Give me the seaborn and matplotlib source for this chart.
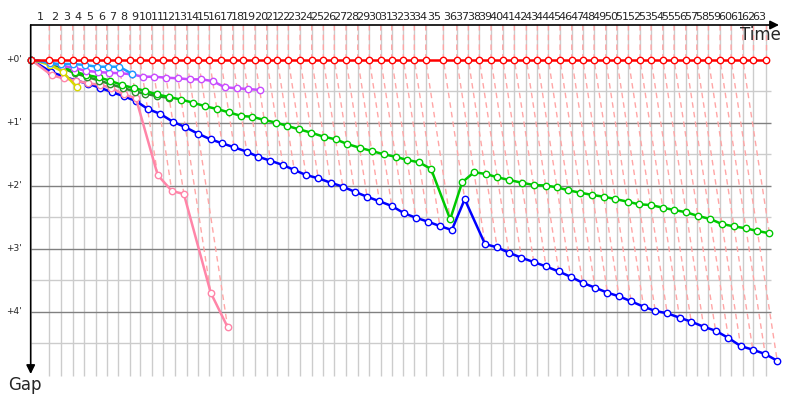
import numpy as np
import pandas as pd
import matplotlib
matplotlib.use("Agg")
import matplotlib.pyplot as plt
import seaborn as sns

# leader lap times (s), laps 1..63
leader_lap_times = [115.7, 70.9, 74.7, 70.3, 74.7, 66.6, 72.2, 72.8, 62.2, 72.8,
                    72.2, 72.8, 72.8, 72.2, 68.5, 70.9, 74.7, 66.0, 72.8, 72.8,
                    66.0, 68.5, 72.8, 72.8, 72.2, 68.5, 72.8, 72.8, 72.2, 70.9,
                    68.5, 72.2, 68.5, 70.9, 109.5, 83.4, 72.2, 68.5, 72.8, 72.8,
                    72.2, 74.7, 68.5, 68.5, 72.8, 72.8, 68.5, 70.3, 72.8, 68.5,
                    72.2, 72.8, 68.5, 72.8, 70.3, 72.8, 68.5, 72.2, 72.8, 68.5,
                    72.8, 66.0, 77.2]

# gap to leader (s) at the end of each lap, from lap 1
gaps_red = [0.0] * 63
gaps_blue = [12, 16, 20, 23, 27, 31, 35, 39.8, 47.0, 51.7,
             59.2, 64.5, 70.7, 76.0, 79.8, 83.6, 87.8, 92.6, 96.4, 100.5,
             105.2, 110.0, 113.1, 117.3, 121.1, 125.9, 130.7, 135.0, 139.5, 146.5,
             150.7, 154.5, 158.6, 162.4, 133.1, 175.7, 178.9, 184.0, 188.8, 192.9,
             197.1, 201.9, 206.9, 212.6, 217.3, 222.1, 225.5, 230.3, 235.4, 239.5,
             241.7, 245.9, 249.7, 254.5, 258.3, 265.2, 272.9, 276.4, 280.5, 286.9]
gaps_green = [3, 7, 11.6, 14.8, 17, 20.2, 24.3, 27.4, 29.7, 33.3,
              35.7, 38.2, 41.2, 44.6, 47.1, 50.3, 53.8, 54.5, 57.6, 60.2,
              63.3, 66.5, 69.7, 73.5, 76.0, 80.5, 84.0, 87.1, 90.3, 92.6,
              95.7, 97.9, 104.3, 152.2, 117.0, 107.4, 109.0, 112.2, 114.8, 117.3,
              119.5, 120.0, 121.7, 124.6, 126.9, 129.0, 130.7, 132.9, 135.4, 137.9,
              138.6, 141.1, 143.3, 145.5, 149.0, 151.9, 156.7, 158.9, 160.8, 163.3, 165.5]
gaps_darkgreen = [4, 8, 13, 16.5, 20, 23.5, 27, 30.5, 32.5, 35, 36.5]
gaps_purple = [3, 6, 8, 10.7, 11.9, 12.6, 13.1, 14.1, 16.4, 16.4,
               17.3, 17.9, 18.9, 18.9, 20.5, 26.5, 27.4, 28.1, 29.0]
gaps_cyan = [3.6, 4.3, 4.3, 5.2, 6.9, 6.9, 6.9, 13.8]
gaps_yellow = [5.2, 11.6, 26.5]
gaps_pink = [15, 18, 20, 22.7, 24, 27, 33.1, 37, 110, 125.2, 128.1, 222, 255]

series = [("blue", gaps_blue, "#0000ff"),
          ("pink", gaps_pink, "#ff85a8"),
          ("darkgreen", gaps_darkgreen, "#2e8b2e"),
          ("green", gaps_green, "#00c800"),
          ("purple", gaps_purple, "#c84cff"),
          ("yellow", gaps_yellow, "#d8d800"),
          ("cyan", gaps_cyan, "#1c9cff"),
          ("red", gaps_red, "#ff0000")]

lap_end = np.concatenate([[0.0], np.cumsum(leader_lap_times)])
n_laps = len(leader_lap_times)

rows = []
for name, gaps, _ in series:
    for lap, gap in enumerate([0.0] + list(gaps)):
        rows.append({"driver": name, "lap": lap, "gap": gap,
                     "time": lap_end[lap] + gap})
df = pd.DataFrame(rows)

# pixel mapping of the 800x400 canvas
X0, SX = 30.7, 0.1607
Y0, SY = 59.5, 1.05
px_x = lambda p: (p - X0) / SX
px_y = lambda p: (p - Y0) / SY

sns.set_style("white")
fig = plt.figure(figsize=(8, 4), dpi=100)
ax = fig.add_axes([0, 0, 1, 1])
ax.set_xlim(px_x(0), px_x(800))
ax.set_ylim(px_y(400), px_y(0))
ax.set_axis_off()

g_top, g_bot = px_y(25), px_y(376)
t_right = px_x(771)

# grid
ax.vlines(lap_end[1:], g_top, g_bot, color="#cccccc", lw=1, zorder=1)
for g in range(30, 300, 60):
    ax.hlines(g, 0, t_right, color="#cccccc", lw=1, zorder=1)
for g in range(60, 300, 60):
    ax.hlines(g, 0, t_right, color="#808080", lw=1, zorder=1)

# lap lines: leader crossing -> last car on that lap
last_gap = df[df.lap > 0].groupby("lap")["gap"].max()
for lap in range(1, n_laps + 1):
    t = lap_end[lap]
    gm = last_gap.get(lap, 0.0)
    ax.plot([t, t, t + gm], [g_top, 0, gm], color="#ffa6a6", lw=1,
            ls=(0, (4, 3)), zorder=2)

# driver traces
for i, (name, _, color) in enumerate(series):
    sns.lineplot(data=df[df.driver == name], x="time", y="gap", sort=False,
                 estimator=None, color=color, linewidth=1.8, marker="o",
                 markersize=4.6, markerfacecolor="white",
                 markeredgecolor=color, markeredgewidth=1.0,
                 legend=False, ax=ax, zorder=3 + i)

# axes with arrows
ax.annotate("", xy=(px_x(779), g_top), xytext=(0, g_top),
            arrowprops=dict(arrowstyle="-|>", color="black", lw=1.2,
                            mutation_scale=13, shrinkA=0, shrinkB=0), zorder=20)
ax.annotate("", xy=(0, px_y(374)), xytext=(0, g_top),
            arrowprops=dict(arrowstyle="-|>", color="black", lw=1.2,
                            mutation_scale=13, shrinkA=0, shrinkB=0), zorder=20)

for lap in range(1, n_laps + 1):
    ax.text((lap_end[lap - 1] + lap_end[lap]) / 2, px_y(17), str(lap),
            ha="center", va="center", fontsize=8)
for m in range(5):
    ax.text(px_x(22), m * 60, f"+{m}'", ha="right", va="center", fontsize=6.5)

ax.text(px_x(760), px_y(35), "Time", ha="center", va="center", fontsize=12)
ax.text(px_x(25), px_y(385), "Gap", ha="center", va="center", fontsize=12)

fig.savefig("out.png", dpi=100, facecolor="white")
